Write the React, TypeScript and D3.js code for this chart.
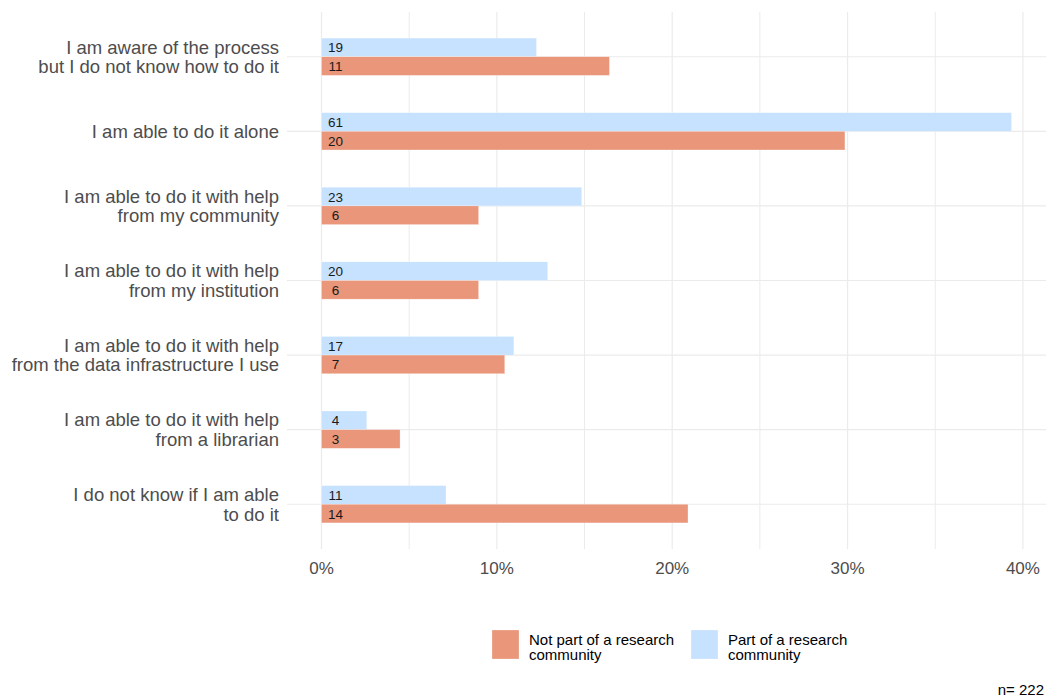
import React from "react";
import * as d3 from "d3";

const categories: string[][] = [
  ["I am aware of the process", "but I do not know how to do it"],
  ["I am able to do it alone"],
  ["I am able to do it with help", "from my community"],
  ["I am able to do it with help", "from my institution"],
  ["I am able to do it with help", "from the data infrastructure I use"],
  ["I am able to do it with help", "from a librarian"],
  ["I do not know if I am able", "to do it"],
];
const partCounts = [19, 61, 23, 20, 17, 4, 11];
const notPartCounts = [11, 20, 6, 6, 7, 3, 14];
const partPct = [12.26, 39.35, 14.84, 12.9, 10.97, 2.58, 7.1];
const notPartPct = [16.42, 29.85, 8.96, 8.96, 10.45, 4.48, 20.9];
const xTicks = [0, 10, 20, 30, 40];
const minorTicks = [5, 15, 25, 35];
const legendLines = [
  ["Not part of a research", "community"],
  ["Part of a research", "community"],
];
const colors = { notPart: "#E9967A", part: "#C6E2FF" };
const totalN = 222;

export default function App() {
  const W = 1046, H = 696;
  const panel = { left: 287, right: 1046, top: 12, bottom: 549 };
  const maxV = d3.max(partPct.concat(notPartPct)) as number;
  const pad = maxV * 0.05;
  const x = d3.scaleLinear().domain([-pad, maxV + pad]).range([panel.left, panel.right]);
  const n = categories.length;
  const unit = (panel.bottom - panel.top) / (n - 1 + 1.2);
  const yc = (i: number) => panel.top + (0.6 + i) * unit;
  const barH = unit * 0.25;
  const font = "Liberation Sans, Arial, sans-serif";
  const legendX = [492, 691];
  const legendColors = [colors.notPart, colors.part];

  return (
    <svg width={W} height={H} style={{ position: "absolute", left: 0, top: 0, background: "#fff" }} fontFamily={font}>
      {minorTicks.map((t) => (
        <line key={"m" + t} x1={x(t)} x2={x(t)} y1={panel.top} y2={panel.bottom} stroke="#EBEBEB" strokeWidth={1} />
      ))}
      {xTicks.map((t) => (
        <line key={"M" + t} x1={x(t)} x2={x(t)} y1={panel.top} y2={panel.bottom} stroke="#EBEBEB" strokeWidth={1.2} />
      ))}
      {categories.map((_, i) => (
        <line key={"h" + i} x1={panel.left} x2={panel.right} y1={yc(i)} y2={yc(i)} stroke="#EBEBEB" strokeWidth={1.2} />
      ))}
      {categories.map((_, i) => (
        <g key={"b" + i}>
          <rect x={x(0)} y={yc(i) - barH} width={x(partPct[i]) - x(0)} height={barH} fill={colors.part} stroke="#fff" strokeOpacity={0.5} strokeWidth={0.5} />
          <rect x={x(0)} y={yc(i)} width={x(notPartPct[i]) - x(0)} height={barH} fill={colors.notPart} stroke="#fff" strokeOpacity={0.5} strokeWidth={0.5} />
          <text x={x(0) + 14} y={yc(i) - barH / 2 + 0.5} textAnchor="middle" dominantBaseline="central" fontSize={13.5} fill="#1a1a1a">{partCounts[i]}</text>
          <text x={x(0) + 14} y={yc(i) + barH / 2 + 0.5} textAnchor="middle" dominantBaseline="central" fontSize={13.5} fill="#1a1a1a">{notPartCounts[i]}</text>
        </g>
      ))}
      {categories.map((lines, i) => (
        <text key={"y" + i} x={279} textAnchor="end" fontSize={18.5} fill="#4D4D4D">
          {lines.map((l, j) => (
            <tspan key={j} x={279} y={yc(i) + (j - (lines.length - 1) / 2) * 19.5} dominantBaseline="central">{l}</tspan>
          ))}
        </text>
      ))}
      {xTicks.map((t) => (
        <text key={"t" + t} x={x(t)} y={568} textAnchor="middle" dominantBaseline="central" fontSize={17} fill="#4D4D4D">{t + "%"}</text>
      ))}
      {legendLines.map((lines, k) => (
        <g key={"l" + k}>
          <rect x={legendX[k]} y={630} width={27} height={29} fill={legendColors[k]} stroke="#fff" strokeOpacity={0.5} strokeWidth={0.5} />
          <text x={legendX[k] + 37} fontSize={15} fill="#000">
            {lines.map((l, j) => (
              <tspan key={j} x={legendX[k] + 37} y={639 + j * 15} dominantBaseline="central">{l}</tspan>
            ))}
          </text>
        </g>
      ))}
      <text x={1044} y={689} textAnchor="end" dominantBaseline="central" fontSize={15} fill="#000">{"n= " + totalN}</text>
    </svg>
  );
}
